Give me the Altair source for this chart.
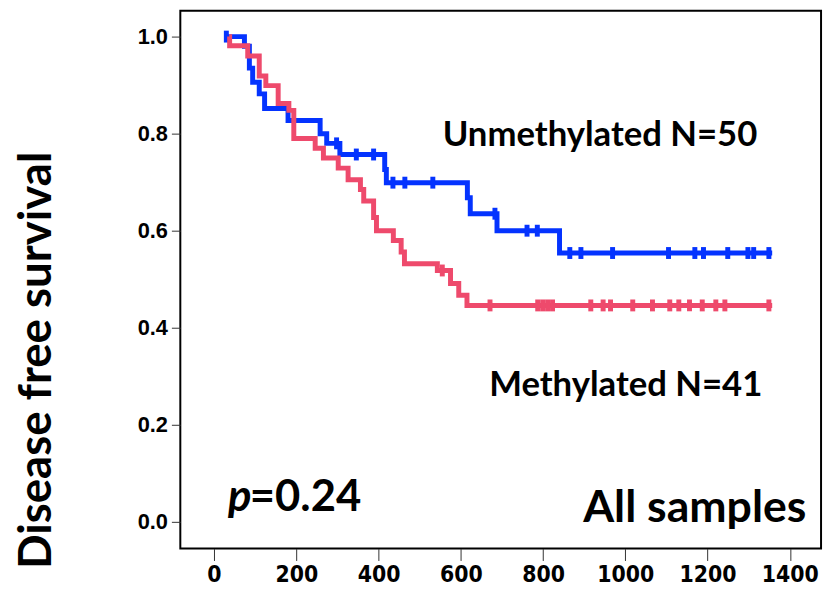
import altair as alt
import pandas as pd

# ---- data ----
unmeth_t = [28, 74, 86, 94, 110, 123, 180, 258, 274, 306, 415, 419, 616, 623, 688, 840, 1357]
unmeth_s = [1.0, 0.98, 0.935, 0.906, 0.882, 0.852, 0.827, 0.80, 0.78, 0.757, 0.726, 0.699,
            0.668, 0.635, 0.60, 0.554, 0.554]
unmeth_cens = [30, 298, 346, 388, 435, 464, 532, 683, 761, 786, 865, 892, 969, 1105,
               1169, 1190, 1249, 1298, 1312, 1349]

meth_t = [37, 38, 82, 110, 126, 156, 182, 194, 246, 266, 302, 326, 356, 364, 388, 395,
          436, 455, 463, 543, 575, 595, 615, 1357]
meth_s = [1.0, 0.981, 0.96, 0.919, 0.899, 0.862, 0.848, 0.790, 0.770, 0.750, 0.729, 0.705,
          0.685, 0.661, 0.627, 0.600, 0.580, 0.556, 0.532, 0.518, 0.491, 0.467, 0.446, 0.446]
meth_cens = [555, 671, 787, 799, 811, 823, 916, 946, 964, 1018, 1066, 1108, 1130, 1156,
             1187, 1220, 1242, 1349]

x_ticks = [0, 200, 400, 600, 800, 1000, 1200, 1400]
y_ticks = [0.0, 0.2, 0.4, 0.6, 0.8, 1.0]

BLUE = "#0433FF"
RED = "#EE4A6C"
TXT_FONT = "Lato"


def step_value(ts, ss, t):
    v = ss[0]
    for ti, si in zip(ts, ss):
        if ti <= t:
            v = si
    return v


blue_df = pd.DataFrame({"t": unmeth_t, "s": unmeth_s})
red_df = pd.DataFrame({"t": meth_t, "s": meth_s})
blue_c = pd.DataFrame({"t": unmeth_cens, "s": [step_value(unmeth_t, unmeth_s, t) for t in unmeth_cens]})
red_c = pd.DataFrame({"t": meth_cens, "s": [step_value(meth_t, meth_s, t) for t in meth_cens]})

xs = alt.Scale(domain=[-81.9, 1475.8], nice=False, zero=False)
ys = alt.Scale(domain=[-0.0551, 1.0531], nice=False, zero=False)

xax = alt.Axis(values=x_ticks, format="d", domain=False, grid=False, tickSize=12, tickColor="#333",
               tickWidth=1, labelFont="'Liberation Sans Narrow', 'DejaVu Sans Condensed', 'Liberation Sans'",
               labelFontWeight="bold", labelFontSize=23, labelColor="black", labelPadding=3,
               title=None)
yax = alt.Axis(values=y_ticks, format=".1f", domain=False, grid=False, tickSize=9,
               tickColor="#333", tickWidth=1, labelFont="Liberation Sans", labelFontWeight="bold",
               labelFontSize=22, labelColor="black", labelPadding=4, title=None)

X = alt.X("t:Q", scale=xs, axis=xax)
Y = alt.Y("s:Q", scale=ys, axis=yax)

blue_line = alt.Chart(blue_df).mark_line(interpolate="step-after", color=BLUE, strokeWidth=5).encode(x=X, y=Y)
red_line = alt.Chart(red_df).mark_line(interpolate="step-after", color=RED, strokeWidth=5).encode(x=X, y=Y)
blue_tk = alt.Chart(blue_c).mark_tick(orient="vertical", color=BLUE, size=12, thickness=5, opacity=1).encode(x=X, y=Y)
red_tk = alt.Chart(red_c).mark_tick(orient="vertical", color=RED, size=12, thickness=5, opacity=1).encode(x=X, y=Y)

ann = pd.DataFrame({
    "t": [556, 669],
    "s": [0.798, 0.282],
    "label": ["Unmethylated N=50", "Methylated N=41"],
})
ann_text = alt.Chart(ann).mark_text(align="left", baseline="middle", font=TXT_FONT,
                                    fontWeight="bold", fontSize=35, color="black").encode(
    x="t:Q", y="s:Q", text="label:N")

p_df = pd.DataFrame({"t": [34], "s": [0.049], "label": ["p"]})
p_text = alt.Chart(p_df).mark_text(align="left", baseline="middle", font=TXT_FONT, fontStyle="italic",
                                   fontWeight="bold", fontSize=44, color="black").encode(
    x="t:Q", y="s:Q", text="label:N")
pv_df = pd.DataFrame({"t": [87], "s": [0.049], "label": ["=0.24"]})
pv_text = alt.Chart(pv_df).mark_text(align="left", baseline="middle", font=TXT_FONT,
                                     fontWeight="bold", fontSize=44, color="black").encode(
    x="t:Q", y="s:Q", text="label:N")
all_df = pd.DataFrame({"t": [1440], "s": [0.029], "label": ["All samples"]})
all_text = alt.Chart(all_df).mark_text(align="right", baseline="middle", font=TXT_FONT,
                                       fontWeight="bold", fontSize=45, color="black").encode(
    x="t:Q", y="s:Q", text="label:N")

ytitle = alt.Chart(pd.DataFrame({"label": ["Disease free survival"]})).mark_text(
    angle=270, align="center", baseline="middle", font=TXT_FONT, fontWeight="bold",
    fontSize=46, color="black").encode(x=alt.value(-145), y=alt.value(353), text="label:N")

chart = alt.layer(blue_line, blue_tk, red_line, red_tk, ann_text, p_text, pv_text, all_text, ytitle).properties(
    width=647, height=543,
    autosize=alt.AutoSizeParams(type="none"),
    padding={"left": 174, "top": 0, "right": 5, "bottom": 43},
    background="white",
).configure_view(stroke="black", strokeWidth=2)

chart.save("out.html", embed_options={"renderer": "svg", "actions": False})
